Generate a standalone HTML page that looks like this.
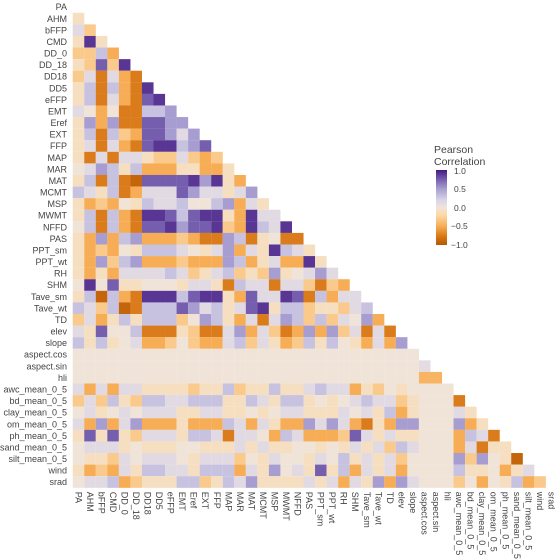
<!DOCTYPE html>
<html><head><meta charset="utf-8">
<style>
html,body{margin:0;padding:0;background:#fff;}
svg{display:block;font-family:"Liberation Sans",sans-serif;}
</style></head>
<body>
<svg id="chart" width="560" height="560" viewBox="0 0 560 560">
  <rect x="0" y="0" width="560" height="560" fill="#fff"/>
  <g id="cells"></g>
  <g id="ylabels"></g>
  <g id="xlabels"></g>
  <g>
    <defs>
      <linearGradient id="cbgrad" x1="0" y1="0" x2="0" y2="1">
        <stop offset="0" stop-color="#45197f"/>
        <stop offset="0.1" stop-color="#6c51a8"/>
        <stop offset="0.25" stop-color="#a89dd0"/>
        <stop offset="0.4" stop-color="#d8d4ea"/>
        <stop offset="0.5" stop-color="#f0e4d9"/>
        <stop offset="0.6" stop-color="#fcd9a8"/>
        <stop offset="0.75" stop-color="#f6ad55"/>
        <stop offset="0.9" stop-color="#d4720f"/>
        <stop offset="1" stop-color="#b35806"/>
      </linearGradient>
    </defs>
    <text x="434" y="153" font-size="10.5" fill="#444">Pearson</text>
    <text x="434" y="165" font-size="10.5" fill="#444">Correlation</text>
    <rect x="436" y="170" width="11" height="75" fill="url(#cbgrad)"/>
    <text x="454" y="174" font-size="8.5" fill="#444">1.0</text>
    <text x="454" y="192" font-size="8.5" fill="#444">0.5</text>
    <text x="454" y="211" font-size="8.5" fill="#444">0.0</text>
    <text x="451" y="229" font-size="8.5" fill="#444">−0.5</text>
    <text x="451" y="248" font-size="8.5" fill="#444">−1.0</text>
  </g>
</svg>
<script>
const variables = ["PA","AHM","bFFP","CMD","DD_0","DD_18","DD18","DD5","eFFP","EMT","Eref","EXT","FFP","MAP","MAR","MAT","MCMT","MSP","MWMT","NFFD","PAS","PPT_sm","PPT_wt","RH","SHM","Tave_sm","Tave_wt","TD","elev","slope","aspect.cos","aspect.sin","hli","awc_mean_0_5","bd_mean_0_5","clay_mean_0_5","om_mean_0_5","ph_mean_0_5","sand_mean_0_5","silt_mean_0_5","wind","srad"];
const colorStops = [-1,-0.8,-0.5,-0.2,0,0.2,0.5,0.8,1];
const colorHex = ["#b35806","#d4720f","#f6ad55","#fcd9a8","#f0e4d9","#d8d4ea","#a89dd0","#6c51a8","#45197f"];
const corr = [
[],
[-.1],
[.12,-.3],
[-.1,.9,-.1],
[-.3,-.3,.3,-.5],
[-.1,-.3,.75,-.3,.9],
[-.3,.12,-.75,.12,-.5,-.75],
[-.1,.3,-.75,.3,-.5,-.75,.9],
[-.1,.3,-.75,.12,-.5,-.75,.75,.9],
[.12,0,-.5,0,-.75,-.75,.3,.3,.5],
[-.1,.5,-.5,.5,-.75,-.75,.75,.75,.5,.5],
[-.1,.3,-.75,.3,-.3,-.5,.75,.75,.5,.12,.5],
[-.1,.12,-.75,.12,-.5,-.75,.75,.9,.9,.3,.5,.75],
[-.1,-.75,.12,-.75,.12,.12,-.1,-.3,-.3,.12,-.3,-.5,-.3],
[0,.12,.5,.3,-.1,.3,-.5,-.5,-.5,-.1,-.1,-.5,-.5,-.1],
[-.1,.3,-.75,.3,-.75,-.9,.75,.75,.75,.75,.9,.5,.9,-.1,-.5],
[.3,.12,-.1,.3,-.75,-.5,.12,.12,.12,.75,.5,.12,.12,-.1,.12,.5],
[-.1,-.5,-.3,-.5,0,-.1,.3,.12,.12,.3,0,0,.3,.5,-.5,.12,-.1],
[-.1,.3,-.75,.3,-.5,-.75,.9,.9,.75,.3,.75,.9,.9,-.1,-.5,.9,.12,.12],
[0,.3,-.75,.3,-.5,-.75,.75,.75,.9,.5,.75,.75,.9,-.3,-.5,.9,.3,.12,.9],
[-.1,-.5,.5,-.5,.3,.5,-.5,-.5,-.5,-.3,-.5,-.75,-.75,.5,.3,-.75,-.1,0,-.75,-.75],
[-.1,-.5,-.3,-.5,0,-.1,.3,.3,.3,.12,0,-.1,.12,.5,-.5,.12,-.1,.9,.3,.12,-.1],
[-.1,-.5,.5,-.3,.3,.5,-.5,-.5,-.5,-.3,-.5,-.5,-.5,.5,.3,-.5,-.1,.12,-.5,-.5,.9,-.1],
[-.1,-.5,-.1,-.5,.12,.12,.12,.12,.3,.12,-.3,-.1,.12,.3,-.3,-.1,-.3,.5,-.1,0,.12,.5,.12],
[0,.9,0,.75,-.1,-.1,0,0,0,-.1,.12,.12,-.1,-.75,.3,.12,.12,-.75,.12,.12,-.3,-.75,-.3,-.5],
[-.1,.3,-.9,.3,-.5,-.75,.9,.9,.9,.3,.75,.9,.9,-.1,-.5,.75,.12,.12,.9,.75,-.75,.3,-.5,.12,.12],
[.3,.12,-.3,.3,-.9,-.75,.3,.3,.3,.75,.5,.12,.3,-.1,.12,.75,.9,-.1,.3,.3,-.3,-.1,-.1,-.3,.12,.3],
[-.3,.12,-.5,-.1,.3,-.1,.3,.3,.3,-.3,0,.5,.3,-.1,-.5,.12,-.75,.12,.5,.3,-.3,.3,-.3,.12,0,.5,-.5],
[.12,-.1,.75,0,0,.3,-.75,-.75,-.75,-.1,-.3,-.75,-.75,.12,.5,-.5,.12,-.3,-.75,-.5,.5,-.5,.5,-.3,.12,-.75,.12,-.75],
[.3,-.1,.3,-.1,0,.12,-.5,-.5,-.3,0,-.3,-.5,-.5,.12,.3,-.3,.12,-.1,-.5,-.3,.3,-.1,.3,0,-.1,-.5,.12,-.5,.5],
[0,0,0,0,0,0,0,0,0,0,0,0,0,0,0,0,0,0,0,0,0,0,0,0,0,0,0,0,0,0],
[0,0,0,0,0,0,0,0,0,0,0,0,0,0,0,0,0,0,0,0,0,0,0,0,0,0,0,0,0,0,.1],
[0,0,0,0,0,0,0,0,0,0,0,0,0,0,0,0,0,0,0,0,0,0,0,0,0,0,0,0,0,0,-.45,-.45],
[.12,-.5,.12,-.5,.12,.12,-.1,-.1,-.1,-.1,-.3,-.1,-.1,.3,-.3,-.1,-.1,.3,-.1,-.1,.12,.3,.12,.12,-.5,-.1,-.3,0,-.1,0,0,0,0],
[-.3,.12,-.3,.3,-.1,-.3,.3,.3,.12,.12,.3,.3,.3,-.1,-.1,.3,.12,-.1,.3,.3,-.1,0,-.1,0,.12,.3,.12,.12,-.3,-.1,0,0,0,-.75],
[0,.12,-.1,0,.12,0,.12,.12,.12,-.1,-.1,.12,.12,-.1,-.1,0,-.1,0,.12,.12,-.1,-.1,-.1,.12,0,.12,-.1,.3,-.5,-.1,0,0,0,.12,-.1],
[.12,-.5,.5,-.5,.12,.5,-.5,-.5,-.5,-.1,-.5,-.5,-.5,.3,.12,-.5,.12,-.1,-.5,-.5,.5,.12,.5,.12,-.5,-.75,-.1,-.5,.5,.5,0,0,0,.5,-.5,-.1],
[-.1,.75,-.1,.75,-.1,-.3,.12,.12,.12,-.1,.3,.3,.12,-.75,.12,.12,0,-.5,.3,.12,-.5,-.5,-.5,-.3,.75,.12,-.1,.12,-.1,-.1,0,0,0,-.5,.3,.12,-.75],
[0,.12,.12,.12,-.1,0,-.1,-.1,-.1,0,0,-.1,-.1,-.1,.12,-.1,.12,-.1,-.1,0,0,-.1,0,-.1,.12,-.1,.12,-.3,.3,.12,0,0,0,-.5,.12,-.75,-.1,-.1],
[0,-.1,-.1,-.3,.12,0,.12,.12,.12,0,-.1,.12,.12,.12,-.3,0,-.1,.12,0,0,-.1,.12,0,.3,-.1,.12,-.1,.12,-.3,0,0,0,0,.5,-.3,.5,0,-.1,-.9],
[-.1,-.5,-.3,-.5,.12,-.1,.3,.3,.12,.12,-.1,.3,.3,.3,-.5,.12,-.1,.5,0,.12,-.1,.75,-.1,.3,-.5,.12,-.1,.12,-.5,0,0,0,0,.3,-.1,-.1,0,-.5,-.1,.12],
[0,.12,.12,.3,-.5,-.3,-.1,-.1,-.1,.3,.3,-.3,-.1,.3,.12,.5,-.1,-.1,-.1,-.1,.12,-.1,.12,-.5,.12,-.1,.5,-.5,.5,.12,0,0,0,-.3,0,-.5,0,-.1,.3,-.5,-.3]
];

const NS = "http://www.w3.org/2000/svg";
const x0 = 72.7, cw = 11.54, y0 = 1.2, ch = 11.585;
function xPos(j){ return x0 + j*cw; }
function yPos(i){ return y0 + i*ch; }
function hex2rgb(h){ return [parseInt(h.substr(1,2),16),parseInt(h.substr(3,2),16),parseInt(h.substr(5,2),16)]; }
function colorFor(v){
  v = Math.max(-1, Math.min(1, v));
  for (let k = 0; k < colorStops.length-1; k++){
    if (v <= colorStops[k+1]){
      const t = (v - colorStops[k])/(colorStops[k+1]-colorStops[k]);
      const a = hex2rgb(colorHex[k]), b = hex2rgb(colorHex[k+1]);
      const c = a.map((av,idx)=>Math.round(av + (b[idx]-av)*t));
      return "rgb("+c.join(",")+")";
    }
  }
  return colorHex[colorHex.length-1];
}

const cellsG = document.getElementById("cells");
corr.forEach((row, i) => {
  row.forEach((v, j) => {
    const r = document.createElementNS(NS, "rect");
    r.setAttribute("x", xPos(j).toFixed(2));
    r.setAttribute("y", yPos(i).toFixed(2));
    r.setAttribute("width", (cw+0.05).toFixed(2));
    r.setAttribute("height", (ch+0.05).toFixed(2));
    r.setAttribute("fill", colorFor(v));
    
    
    cellsG.appendChild(r);
  });
});

const yl = document.getElementById("ylabels");
variables.forEach((name, i) => {
  const t = document.createElementNS(NS, "text");
  t.setAttribute("x", 67);
  t.setAttribute("y", (yPos(i) + ch/2 + 3.2).toFixed(2));
  t.setAttribute("text-anchor", "end");
  t.setAttribute("font-size", "9");
  t.setAttribute("fill", "#444");
  t.textContent = name;
  
  
  yl.appendChild(t);
});

const xl = document.getElementById("xlabels");
const xLabelTop = yPos(variables.length) + 4;
variables.forEach((name, j) => {
  const t = document.createElementNS(NS, "text");
  const cx = xPos(j) + cw/2 - 3.2;
  t.setAttribute("transform", "translate(" + cx.toFixed(2) + "," + xLabelTop.toFixed(2) + ") rotate(90)");
  t.setAttribute("font-size", "9");
  t.setAttribute("fill", "#444");
  t.textContent = name;
  
  
  xl.appendChild(t);
});
</script>
</body></html>
